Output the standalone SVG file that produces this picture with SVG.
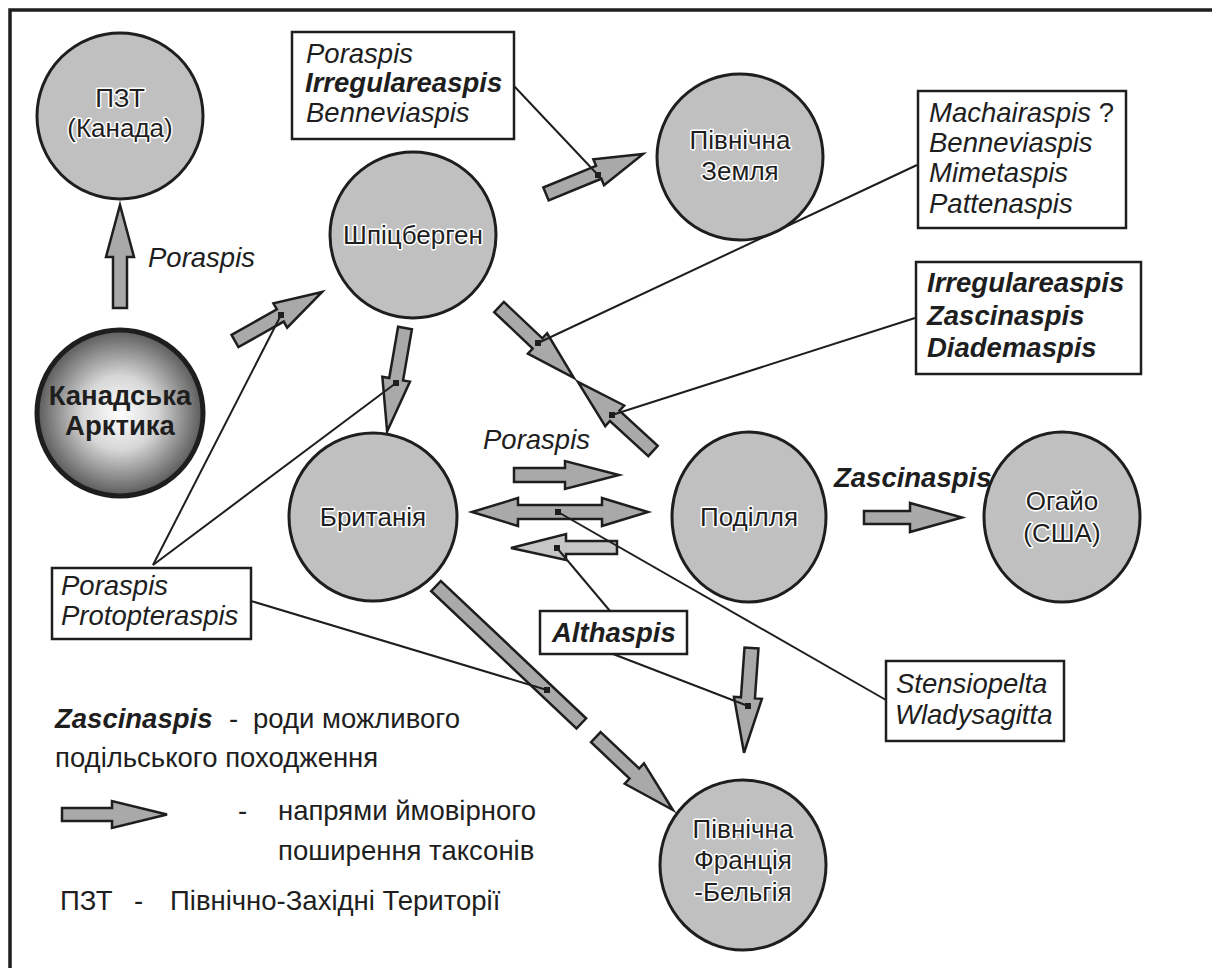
<svg xmlns="http://www.w3.org/2000/svg" width="1212" height="968" viewBox="0 0 1212 968">
<style>
.node{fill:#c0c0c0;stroke:#1e1e1e;stroke-width:3}
.nt{font-family:"Liberation Sans",Arial,sans-serif;font-size:26px;fill:#1e1e1e;stroke:#fff;stroke-width:3;paint-order:stroke;stroke-linejoin:round;text-anchor:middle}
.arr{fill:#a9a9a9;stroke:#1e1e1e;stroke-width:2.5;stroke-linejoin:miter}
.arrl{fill:#c6c6c6;stroke:#1e1e1e;stroke-width:2.5}
.box{fill:#fff;stroke:#1e1e1e;stroke-width:2.5}
.lbl{font-family:"Liberation Sans",Arial,sans-serif;font-size:27.5px;fill:#1e1e1e}
.lg{font-family:"Liberation Sans",Arial,sans-serif;font-size:27.5px;fill:#1e1e1e}
.it{font-style:italic}
.b{font-weight:bold}
.ln{stroke:#1e1e1e;stroke-width:2;fill:none}
.dot{fill:#1e1e1e}
</style>
<defs>
<radialGradient id="g1" cx="0.5" cy="0.5" r="0.5">
<stop offset="0" stop-color="#ffffff"/>
<stop offset="0.45" stop-color="#d6d6d6"/>
<stop offset="1" stop-color="#5a5a5a"/>
</radialGradient>
</defs>
<rect x="0" y="0" width="1212" height="968" fill="#fff"/>
<rect x="10" y="10" width="1230" height="990" fill="none" stroke="#1e1e1e" stroke-width="3.5"/>

<g id="connectors">
<g transform="translate(120,308) rotate(-90)"><polygon class="arr" points="0,-7 51,-7 51,-14 103,0 51,14 51,7 0,7"/></g>
<g transform="translate(235,341) rotate(-29.4)"><polygon class="arr" points="0,-7 52,-7 52,-14 100,0 52,14 52,7 0,7"/></g>
<g transform="translate(546,194) rotate(-22.4)"><polygon class="arr" points="0,-7 57,-7 57,-14 105,0 57,14 57,7 0,7"/></g>
<g transform="translate(405,328) rotate(99.8)"><polygon class="arr" points="0,-7 52,-7 52,-14 105,0 52,14 52,7 0,7"/></g>
<g transform="translate(499,307) rotate(43.4)"><polygon class="arr" points="0,-7 53,-7 53,-14 103,0 53,14 53,7 0,7"/></g>
<g transform="translate(653,451) rotate(-137.4)"><polygon class="arr" points="0,-7 52,-7 52,-14 102,0 52,14 52,7 0,7"/></g>
<polygon class="arr" points="514,468 565,468 565,461 619,475 565,489 565,482 514,482"/>
<polygon class="arr" points="472,512 518,498 518,505 602,505 602,498 648,512 602,526 602,519 518,519 518,526"/>
<polygon class="arrl" points="617,541 566,541 566,534 511,548 566,560 566,554 617,554"/>
<polygon class="arr" points="864,511 910,511 910,503 962,517.5 910,532 910,524 864,524"/>
<g transform="translate(436,586) rotate(43.4)">
<polygon class="arr" points="0,-7 200,-7 200,7 0,7"/>
<polygon class="arr" points="220,-7 273,-7 273,-14 326,0 273,14 273,7 220,7"/>
</g>
<g transform="translate(751.5,648) rotate(94.1)"><polygon class="arr" points="0,-7 50,-7 50,-14 105,0 50,14 50,7 0,7"/></g>

<line class="ln" x1="514" y1="86" x2="598" y2="175"/>
<line class="ln" x1="153" y1="565" x2="281" y2="315"/>
<line class="ln" x1="153" y1="565" x2="396" y2="383"/>
<line class="ln" x1="251" y1="601" x2="547" y2="690"/>
<line class="ln" x1="917" y1="165" x2="538" y2="343"/>
<line class="ln" x1="915" y1="318" x2="612" y2="415"/>
<line class="ln" x1="886" y1="700" x2="558" y2="512"/>
<line class="ln" x1="610" y1="611" x2="557" y2="548"/>
<line class="ln" x1="613" y1="654" x2="748" y2="706"/>
<rect class="dot" x="595" y="172" width="6" height="6"/>
<rect class="dot" x="278" y="312" width="6" height="6"/>
<rect class="dot" x="393" y="380" width="6" height="6"/>
<rect class="dot" x="544" y="687" width="6" height="6"/>
<rect class="dot" x="535" y="340" width="6" height="6"/>
<rect class="dot" x="609" y="412" width="6" height="6"/>
<rect class="dot" x="555" y="509" width="6" height="6"/>
<rect class="dot" x="554" y="545" width="6" height="6"/>
<rect class="dot" x="745" y="703" width="6" height="6"/>
</g>

<g id="n-pzt"><circle class="node" cx="120" cy="116" r="83"/>
<text class="nt" x="120" y="107">ПЗТ</text><text class="nt" x="120" y="137">(Канада)</text></g>
<g id="n-arctic"><circle cx="120" cy="413" r="83" fill="url(#g1)" stroke="#1e1e1e" stroke-width="5"/>
<text class="nt b" x="120" y="405" style="font-size:27.5px;stroke:none">Канадська</text><text class="nt b" x="120" y="435" style="font-size:27.5px;stroke:none">Арктика</text></g>
<g id="n-spitsbergen"><circle class="node" cx="413" cy="235" r="83"/>
<text class="nt" x="413" y="244">Шпіцберген</text></g>
<g id="n-severnaya"><circle class="node" cx="740" cy="157" r="83"/>
<text class="nt" x="740" y="149">Північна</text><text class="nt" x="740" y="180">Земля</text></g>
<g id="n-britain"><circle class="node" cx="373" cy="517" r="84"/>
<text class="nt" x="373" y="526">Британія</text></g>
<g id="n-podillia"><ellipse class="node" cx="749" cy="517" rx="77" ry="85"/>
<text class="nt" x="749" y="526">Поділля</text></g>
<g id="n-ohio"><ellipse class="node" cx="1062" cy="517" rx="78" ry="85"/>
<text class="nt" x="1062" y="510">Огайо</text><text class="nt" x="1062" y="542">(США)</text></g>
<g id="n-france"><ellipse class="node" cx="743" cy="865" rx="83" ry="85"/>
<text class="nt" x="743" y="838">Північна</text><text class="nt" x="743" y="869">Франція</text><text class="nt" x="743" y="901">-Бельгія</text></g>

<g id="box-top"><rect class="box" x="292" y="32" width="222" height="107"/>
<text class="lbl it" x="306" y="63">Poraspis</text><text class="lbl it b" x="305" y="92">Irregulareaspis</text><text class="lbl it" x="306" y="122">Benneviaspis</text></g>
<g id="box-mach"><rect class="box" x="918" y="91" width="208" height="137"/>
<text class="lbl" x="929" y="122"><tspan class="it">Machairaspis</tspan> ?</text><text class="lbl it" x="929" y="152">Benneviaspis</text><text class="lbl it" x="929" y="182">Mimetaspis</text><text class="lbl it" x="929" y="213">Pattenaspis</text></g>
<g id="box-irr"><rect class="box" x="916" y="262" width="225" height="112"/>
<text class="lbl it b" x="927" y="292">Irregulareaspis</text><text class="lbl it b" x="927" y="325">Zascinaspis</text><text class="lbl it b" x="927" y="357">Diademaspis</text></g>
<g id="box-por"><rect class="box" x="52" y="568" width="199" height="71"/>
<text class="lbl it" x="61" y="595">Poraspis</text><text class="lbl it" x="61" y="625">Protopteraspis</text></g>
<g id="box-alth"><rect class="box" x="540" y="611" width="147" height="43"/>
<text class="lbl it b" x="552" y="642">Althaspis</text></g>
<g id="box-sten"><rect class="box" x="886" y="661" width="178" height="80"/>
<text class="lbl it" x="896" y="693">Stensiopelta</text><text class="lbl it" x="895" y="724">Wladysagitta</text></g>

<g id="labels">
<text class="lbl it" x="148" y="267">Poraspis</text>
<text class="lbl it" x="483" y="449">Poraspis</text>
<text class="lbl it b" x="834" y="487">Zascinaspis</text>
</g>

<g id="legend">
<text class="lg it b" x="55" y="728">Zascinaspis</text>
<text class="lg" x="229" y="728">-</text>
<text class="lg" x="253" y="728">роди можливого</text>
<text class="lg" x="55" y="767">подільського походження</text>
<polygon class="arr" points="62,808 112,808 112,801 167,814.5 112,828 112,821 62,821"/>
<text class="lg" x="238" y="820">-</text>
<text class="lg" x="278" y="820">напрями ймовірного</text>
<text class="lg" x="278" y="860">поширення таксонів</text>
<text class="lg" x="60" y="910">ПЗТ</text>
<text class="lg" x="134" y="910">-</text>
<text class="lg" x="170" y="910">Північно-Західні Території</text>
</g>
</svg>
